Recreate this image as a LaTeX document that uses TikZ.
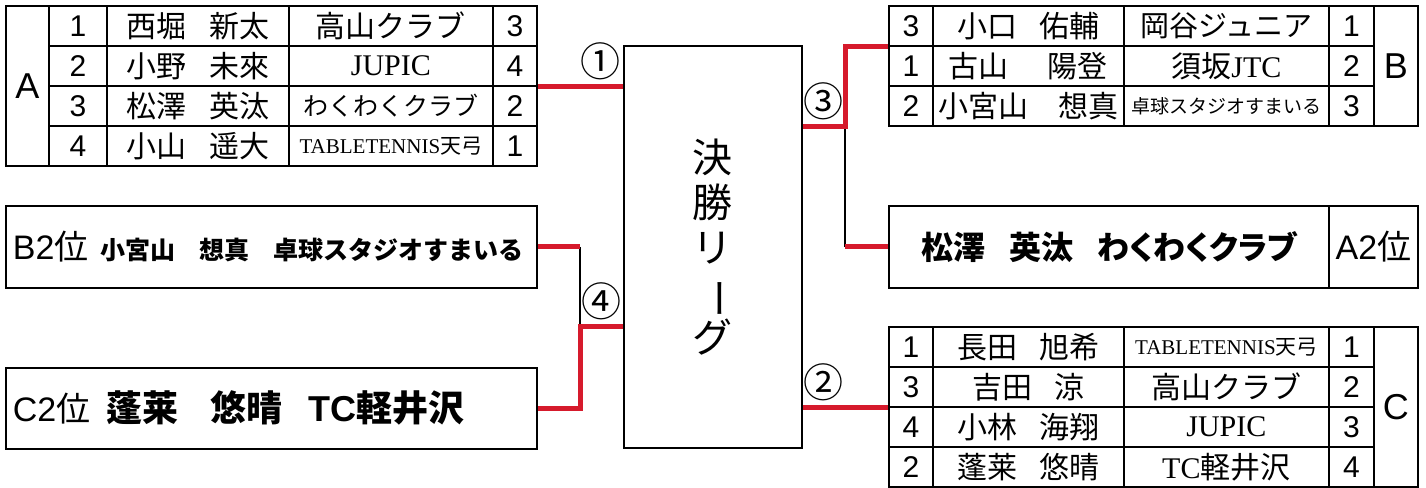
\documentclass[tikz,border=0pt]{standalone}
\usepackage{fontspec}
\setmainfont{Liberation Sans}
\newfontfamily\jp{Noto Sans CJK JP}
\newfontfamily\jpp[RawFeature=+palt]{Noto Sans CJK JP}
\newfontfamily\rom{Liberation Serif}
\usepackage{tikz}
\definecolor{winred}{RGB}{214,26,44}
\newcommand{\fsz}[1]{\fontsize{#1}{#1}\selectfont}
\newcommand{\namegap}{\hspace{0.75em}}
\tikzstyle{cell} = [rectangle, draw=black, line width=1.8pt, inner sep=0pt, anchor=north west, minimum height=40pt, text centered, font=\fsz{30}]
\tikzstyle{win} = [draw=winred, line width=5pt]
\tikzstyle{link} = [draw=black, line width=1.5pt]
\tikzstyle{circnum} = [inner sep=0pt, font=\jp\fsz{40}]

\begin{document}
\begin{tikzpicture}[x=1pt, y=-1pt]
	\useasboundingbox (0,0) rectangle (1426,487);
	
	\node (agrp) [cell, minimum width=43pt, minimum height=160pt, font=\fsz{36}] at (5,5) {A};
	\node (a1n) [cell, minimum width=58pt] at (48,5) {1};
	\node (a1p) [cell, minimum width=182pt] at (106,5) {\jp 西堀\namegap 新太};
	\node (a1c) [cell, minimum width=204pt] at (288,5) {\jp 高山クラブ};
	\node (a1r) [cell, minimum width=44pt] at (492,5) {3};
	\node (a2n) [cell, minimum width=58pt] at (48,45) {2};
	\node (a2p) [cell, minimum width=182pt] at (106,45) {\jp 小野\namegap 未來};
	\node (a2c) [cell, minimum width=204pt] at (288,45) {\rom JUPIC};
	\node (a2r) [cell, minimum width=44pt] at (492,45) {4};
	\node (a3n) [cell, minimum width=58pt] at (48,85) {3};
	\node (a3p) [cell, minimum width=182pt] at (106,85) {\jp 松澤\namegap 英汰};
	\node (a3c) [cell, minimum width=204pt, font=\jp\fsz{25}] at (288,85) {わくわくクラブ};
	\node (a3r) [cell, minimum width=44pt] at (492,85) {2};
	\node (a4n) [cell, minimum width=58pt] at (48,125) {4};
	\node (a4p) [cell, minimum width=182pt] at (106,125) {\jp 小山\namegap 遥大};
	\node (a4c) [cell, minimum width=204pt, font=\fsz{21}] at (288,125) {{\rom TABLETENNIS}{\jp 天弓}};
	\node (a4r) [cell, minimum width=44pt] at (492,125) {1};
	
	\node (b1n) [cell, minimum width=44pt] at (888,5) {3};
	\node (b1p) [cell, minimum width=191pt] at (932,5) {\jp 小口\namegap 佑輔};
	\node (b1c) [cell, minimum width=205pt, font=\jp\fsz{29}] at (1123,5) {岡谷ジュニア};
	\node (b1r) [cell, minimum width=45pt] at (1328,5) {1};
	\node (b2n) [cell, minimum width=44pt] at (888,45) {1};
	\node (b2p) [cell, minimum width=191pt] at (932,45) {\jp 古山\hspace{1.3em}陽登};
	\node (b2c) [cell, minimum width=205pt] at (1123,45) {{\jp 須坂}{\rom JTC}};
	\node (b2r) [cell, minimum width=45pt] at (1328,45) {2};
	\node (b3n) [cell, minimum width=44pt] at (888,85) {2};
	\node (b3p) [cell, minimum width=191pt] at (932,85) {\jp 小宮山\hspace{1em}想真};
	\node (b3c) [cell, minimum width=205pt, font=\jp\fsz{19}] at (1123,85) {卓球スタジオすまいる};
	\node (b3r) [cell, minimum width=45pt] at (1328,85) {3};
	\node (bgrp) [cell, minimum width=44pt, minimum height=120pt, font=\fsz{36}] at (1373,5) {B};
	
	\node (c1n) [cell, minimum width=44pt] at (888,326) {1};
	\node (c1p) [cell, minimum width=191pt] at (932,326) {\jp 長田\namegap 旭希};
	\node (c1c) [cell, minimum width=205pt, font=\fsz{21}] at (1123,326) {{\rom TABLETENNIS}{\jp 天弓}};
	\node (c1r) [cell, minimum width=45pt] at (1328,326) {1};
	\node (c2n) [cell, minimum width=44pt] at (888,366) {3};
	\node (c2p) [cell, minimum width=191pt] at (932,366) {\jp 吉田\namegap 涼};
	\node (c2c) [cell, minimum width=205pt] at (1123,366) {\jp 高山クラブ};
	\node (c2r) [cell, minimum width=45pt] at (1328,366) {2};
	\node (c3n) [cell, minimum width=44pt] at (888,406) {4};
	\node (c3p) [cell, minimum width=191pt] at (932,406) {\jp 小林\namegap 海翔};
	\node (c3c) [cell, minimum width=205pt] at (1123,406) {\rom JUPIC};
	\node (c3r) [cell, minimum width=45pt] at (1328,406) {3};
	\node (c4n) [cell, minimum width=44pt] at (888,446) {2};
	\node (c4p) [cell, minimum width=191pt] at (932,446) {\jp 蓬莱\namegap 悠晴};
	\node (c4c) [cell, minimum width=205pt] at (1123,446) {{\rom TC}{\jp 軽井沢}};
	\node (c4r) [cell, minimum width=45pt] at (1328,446) {4};
	\node (cgrp) [cell, minimum width=44pt, minimum height=160pt, font=\fsz{36}] at (1373,326) {C};
	
	\node (b2box) [cell, minimum width=531pt, minimum height=82pt, text width=517pt, inner xsep=7pt, align=left] at (5,205) {{\fsz{34}B2{\jp 位}}\hspace{12pt}{\jp\bfseries\fsz{25}小宮山\hspace{24pt}想真\hspace{24pt}卓球スタジオすまいる}};
	\node (c2box) [cell, minimum width=531pt, minimum height=81pt, text width=517pt, inner xsep=7pt, align=left] at (5,367) {{\fsz{34}C2{\jp 位}}\hspace{16pt}{\bfseries\fsz{36}{\jp 蓬莱}\hspace{32pt}{\jp 悠晴}\hspace{26pt}TC{\jp 軽井沢}}};
	\node (a2box) [cell, minimum width=440pt, minimum height=82pt, font=\jpp\bfseries\fsz{32}] at (888,205) {松澤\namegap 英汰\namegap わくわくクラブ};
	\node (a2lab) [cell, minimum width=89pt, minimum height=82pt, font=\fsz{34}] at (1328,205) {A2{\jp 位}};
	
	\node (final) [cell, minimum width=178pt, minimum height=402pt, align=center, font=\jp\fontsize{40}{45}\selectfont] at (623,45) {決\\勝\\リ\\\rotatebox[origin=c]{-90}{ー}\\グ};
	
	\coordinate (j3) at (845,126);
	\coordinate (j4) at (580,326);
	
	\draw [win] (a2r.south east) -- node (k1) [circnum, above, pos=0.74, yshift=4pt] {①} (a2r.south east -| final.west);
	\draw [link] (j3) -- (j3 |- a2box.west);
	\draw [win] (final.east |- j3) -- node (k3) [circnum, above, yshift=4pt] {③} (j3) -- (j3 |- b1n.south west) -- (b1n.south west);
	\draw [win] (j3 |- a2box.west) -- (a2box.west);
	\draw [link] (b2box.east -| j4) -- (j4);
	\draw [win] (b2box.east) -- (b2box.east -| j4);
	\draw [win] (final.west |- j4) -- node (k4) [circnum, above, yshift=4pt] {④} (j4) -- (j4 |- c2box.east) -- (c2box.east);
	\draw [win] (final.east |- c2n.south west) -- node (k2) [circnum, above, pos=0.24, yshift=4pt] {②} (c2n.south west);
	
\end{tikzpicture}
\end{document}
